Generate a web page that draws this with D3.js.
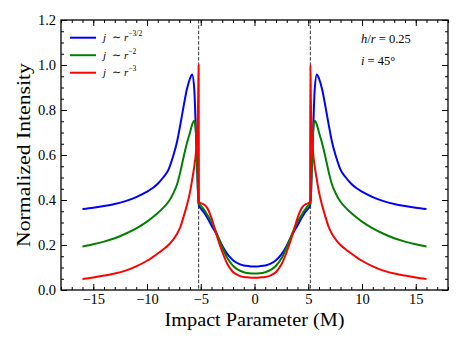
<!DOCTYPE html>
<html>
<head>
<meta charset="utf-8">
<script src="https://cdn.jsdelivr.net/npm/d3@7"></script>
<style>
  body { margin: 0; background: #fff; }
  svg text { font-family: "Liberation Serif", "DejaVu Serif", serif; fill: #000; }
</style>
</head>
<body>
<div id="chart"></div>
<script>
// impact parameter grid (M)
const impact = [
  -16, -15, -14, -13, -12, -11, -10, -9.5, -9, -8.5, -8, -7.6, -7.2, -6.9, -6.6, -6.3, -6.0, -5.8,
  -5.6, -5.45, -5.32, -5.24, -5.2, -5.17, -5.0, -4.7, -4.4, -4.0, -3.5, -3.0, -2.5, -2.0, -1.5, -1.0, -0.5, 0,
  0.5, 1.0, 1.5, 2.0, 2.5, 3.0, 3.5, 4.0, 4.4, 4.7, 5.0, 5.17, 5.2, 5.24, 5.32, 5.45, 5.6,
  5.8, 6.0, 6.3, 6.6, 6.9, 7.2, 7.6, 8, 8.5, 9, 9.5, 10, 11, 12, 13, 14, 15, 16
]

const emis32 = [
  .36, .366, .373, .382, .395, .413, .437, .452, .472, .5, .535, .59, .66, .735, .815, .89, .94, .958,
  .89, .7, .53, .41, .385, .375, .362, .345, .322, .287, .245, .197, .158, .132, .117, .109, .106, .105,
  .106, .109, .117, .132, .158, .197, .245, .287, .322, .345, .362, .375, .385, .41, .53, .7, .89,
  .958, .94, .89, .815, .735, .66, .59, .535, .5, .472, .452, .437, .413, .395, .382, .373, .366, .36
]

const emis2 = [
  .193, .203, .215, .23, .25, .274, .304, .322, .342, .365, .392, .425, .47, .525, .59, .65, .7, .735,
  .752, .7, .52, .41, .39, .383, .375, .357, .335, .303, .25, .19, .14, .108, .089, .079, .074, .073,
  .074, .079, .089, .108, .14, .19, .25, .303, .335, .357, .375, .383, .39, .41, .52, .7, .752,
  .735, .7, .65, .59, .525, .47, .425, .392, .365, .342, .322, .304, .274, .25, .23, .215, .203, .193
]

const emis3 = [
  .049, .056, .064, .073, .086, .105, .13, .145, .162, .18, .2, .222, .25, .28, .325, .375, .435, .49,
  .55, .61, .7, .85, 1.0, .39, .386, .38, .365, .32, .24, .17, .113, .08, .065, .058, .056, .055,
  .056, .058, .065, .08, .113, .17, .24, .32, .365, .38, .386, .39, 1.0, .85, .7, .61, .55,
  .49, .435, .375, .325, .28, .25, .222, .2, .18, .162, .145, .13, .105, .086, .073, .064, .056, .049
]

const photonRing = [-5.196, 5.196]
const xTicks = [-15, -10, -5, 0, 5, 10, 15]
const yTicks = [0, 0.2, 0.4, 0.6, 0.8, 1.0, 1.2]

const series = [
  {name: '−3/2', values: emis32, color: '#0000ff'},
  {name: '−2', values: emis2, color: '#008000'},
  {name: '−3', values: emis3, color: '#ff0000'},
]

const W = 463, H = 347
const m = {left: 61, right: 15, top: 20, bottom: 57}
const iw = W - m.left - m.right
const ih = H - m.top - m.bottom
const serif = '"Liberation Serif", "DejaVu Serif", serif'

const svg = d3.select('#chart').append('svg')
  .attr('width', W)
  .attr('height', H)

const g = svg.append('g').attr('transform', `translate(${m.left},${m.top})`)

const x = d3.scaleLinear().domain([-18, 18]).range([0, iw])
const y = d3.scaleLinear().domain([0, 1.2]).range([ih, 0])

const fmt = (d) => d3.format('.1f')(d)
const xfmt = (d) => d < 0 ? '\u2212' + Math.abs(d) : String(d)

// minor ticks
const xMinor = d3.range(-18, 18.01, 1)
const yMinor = d3.range(0, 1.201, 0.05)

const drawAxis = (axis, tr) => {
  const a = g.append('g').attr('transform', tr).call(axis)
  a.attr('font-family', serif)
  a.select('.domain').remove()
  a.selectAll('line').attr('stroke', '#000').attr('stroke-width', 1)
  a.selectAll('text').style('font-size', '14.5px').style('font-family', serif)
  return a
}

drawAxis(d3.axisBottom(x).tickValues(xMinor).tickSize(-3).tickFormat(''), `translate(0,${ih})`)
drawAxis(d3.axisTop(x).tickValues(xMinor).tickSize(-3).tickFormat(''), 'translate(0,0)')
drawAxis(d3.axisLeft(y).tickValues(yMinor).tickSize(-3).tickFormat(''), 'translate(0,0)')
drawAxis(d3.axisRight(y).tickValues(yMinor).tickSize(-3).tickFormat(''), `translate(${iw},0)`)

drawAxis(d3.axisBottom(x).tickValues(xTicks).tickSize(-6).tickPadding(4).tickFormat(xfmt), `translate(0,${ih})`)
drawAxis(d3.axisTop(x).tickValues(xTicks).tickSize(-6).tickFormat(''), 'translate(0,0)')
drawAxis(d3.axisLeft(y).tickValues(yTicks).tickSize(-6).tickPadding(5).tickFormat(fmt), 'translate(0,0)')
drawAxis(d3.axisRight(y).tickValues(yTicks).tickSize(-6).tickFormat(''), `translate(${iw},0)`)

// dashed photon ring lines
g.selectAll('.ring')
  .data(photonRing)
  .enter()
    .append('line')
    .attr('class', 'ring')
    .attr('x1', (d) => x(d))
    .attr('x2', (d) => x(d))
    .attr('y1', 0)
    .attr('y2', ih)
    .attr('stroke', '#333')
    .attr('stroke-width', 1)
    .attr('stroke-dasharray', '3.5,1.8')

const line = d3.line()
  .x((d) => x(d[0]))
  .y((d) => y(d[1]))
  .curve(d3.curveMonotoneX)

g.selectAll('.curve')
  .data(series)
  .enter()
    .append('path')
    .attr('class', 'curve')
    .attr('fill', 'none')
    .attr('stroke', (d) => d.color)
    .attr('stroke-width', 2)
    .attr('stroke-linejoin', 'round')
    .attr('d', (d) => line(impact.map((v, i) => [v, d.values[i]])))

// frame
g.append('rect')
  .attr('width', iw)
  .attr('height', ih)
  .attr('fill', 'none')
  .attr('stroke', '#000')
  .attr('stroke-width', 1.3)

// legend
const leg = g.append('g').attr('transform', 'translate(9,17.7)')
const item = leg.selectAll('.item')
  .data(series)
  .enter()
    .append('g')
    .attr('transform', (d, i) => `translate(0,${i * 17.5})`)

item.append('line')
  .attr('x1', 0)
  .attr('x2', 26)
  .attr('stroke', (d) => d.color)
  .attr('stroke-width', 2)

const lt = item.append('text')
  .attr('x', 33)
  .attr('y', 3.5)
  .style('font-size', '11px')
  .style('font-family', serif)
lt.append('tspan').style('font-style', 'italic').text('j')
lt.append('tspan').attr('dx', 6).text('\u223c ')
lt.append('tspan').style('font-style', 'italic').text('r')
lt.append('tspan')
  .attr('dy', -5)
  .style('font-size', '7.5px')
  .text((d) => d.name)

// annotation
const ann = g.append('text')
  .attr('x', 300)
  .attr('y', 23)
  .style('font-size', '12.5px')
  .style('font-family', serif)
ann.append('tspan').style('font-style', 'italic').text('h')
ann.append('tspan').text('/')
ann.append('tspan').style('font-style', 'italic').text('r')
ann.append('tspan').text(' = 0.25')

const ann2 = g.append('text')
  .attr('x', 300)
  .attr('y', 45)
  .style('font-size', '12.5px')
  .style('font-family', serif)
ann2.append('tspan').style('font-style', 'italic').text('i')
ann2.append('tspan').text(' = 45\u00b0')

// axis titles
svg.append('text')
  .attr('x', m.left + iw / 2)
  .attr('y', 326)
  .attr('text-anchor', 'middle')
  .attr('textLength', 180)
  .attr('lengthAdjust', 'spacingAndGlyphs')
  .style('font-size', '18.5px')
  .text('Impact Parameter (M)')

svg.append('text')
  .attr('transform', `translate(30,${m.top + ih / 2}) rotate(-90)`)
  .attr('text-anchor', 'middle')
  .attr('textLength', 184)
  .attr('lengthAdjust', 'spacingAndGlyphs')
  .style('font-size', '18px')
  .text('Normalized Intensity')
</script>
</body>
</html>
